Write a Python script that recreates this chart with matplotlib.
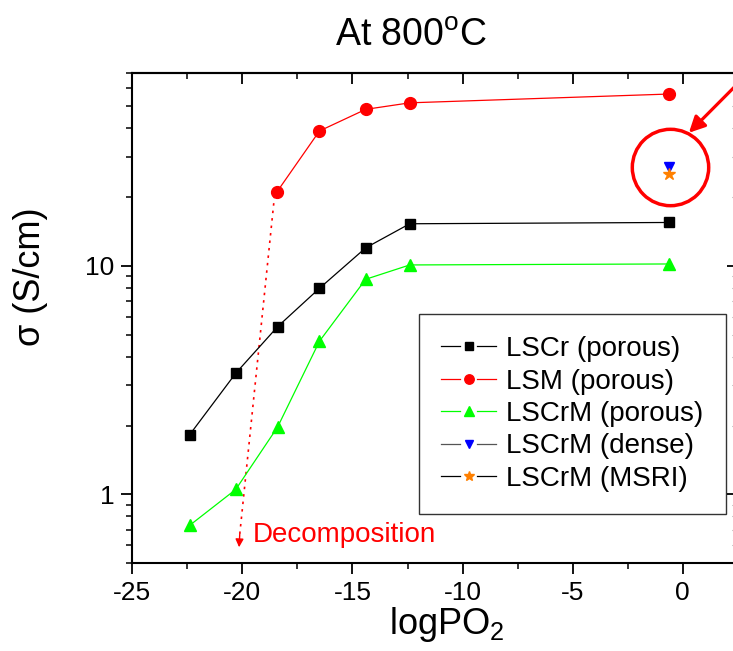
import matplotlib
matplotlib.use("Agg")
import matplotlib.pyplot as plt
from matplotlib.lines import Line2D
from matplotlib.legend_handler import HandlerLine2D

plt.rcParams['font.family'] = ['Liberation Sans', 'DejaVu Sans']
plt.rcParams['mathtext.fontset'] = 'custom'
plt.rcParams['mathtext.rm'] = 'Liberation Sans'
plt.rcParams['mathtext.it'] = 'Liberation Sans:italic'

# Data
x_lscr = [-22.4, -20.3, -18.4, -16.5, -14.4, -12.4, -0.64]
y_lscr = [1.82, 3.39, 5.42, 7.98, 12.0, 15.3, 15.5]
x_lsm = [-18.43, -16.5, -14.4, -12.4, -0.64]
y_lsm = [21.1, 39.0, 48.5, 51.8, 56.6]
x_lscrm = [-22.4, -20.3, -18.4, -16.5, -14.4, -12.4, -0.64]
y_lscrm = [0.73, 1.05, 1.97, 4.68, 8.74, 10.1, 10.2]
x_dense = [-0.64]
y_dense = [27.2]
x_msri = [-0.64]
y_msri = [25.2]

labels = ['LSCr (porous)', 'LSM (porous)', 'LSCrM (porous)', 'LSCrM (dense)', 'LSCrM (MSRI)']
xticks = [-25, -20, -15, -10, -5, 0]
xminor = [-22.5, -17.5, -12.5, -7.5, -2.5]

# annotation anchors (data coords)
decomp_start = (-18.54, 20.3)
decomp_base = (-20.12, 0.668)
decomp_tip = (-20.15, 0.586)
decomp_text_pos = (-19.52, 0.66)
circle_center = (-0.58, 27.2)
arrow_tail = (2.85, 68.0)
arrow_head = (0.28, 38.3)


class GapHandler(HandlerLine2D):
    """Origin-style legend handle: line - marker - line with small gaps."""
    def create_artists(self, legend, orig_handle, xdescent, ydescent, width, height, fontsize, trans):
        x0 = -xdescent
        x1 = -xdescent + width
        xm = (x0 + x1) / 2
        g = 0.15 * width
        y = (height - ydescent) / 2.0
        l1 = Line2D([x0, xm - g], [y, y])
        l2 = Line2D([xm + g, x1], [y, y])
        m = Line2D([xm], [y])
        for a in (l1, l2, m):
            self.update_prop(a, orig_handle, legend)
            a.set_transform(trans)
        l1.set_marker('None')
        l2.set_marker('None')
        m.set_linestyle('None')
        m.set_markersize(orig_handle.get_markersize() * 0.8)
        return [l1, l2, m]


fig = plt.figure(figsize=(7.33, 6.51), dpi=100)
ax = fig.add_axes([0.1805, 0.1352, 0.826, 0.7527])
ax.set_yscale('log')
ax.set_xlim(-25, 2.5)
ax.set_ylim(0.5, 70)

ms = 7.8
h1, = ax.plot(x_lscr, y_lscr, color='black', lw=0.9, marker='s', ms=ms, mfc='black', mec='black', label=labels[0], zorder=3)
h2, = ax.plot(x_lsm, y_lsm, color='red', lw=0.9, marker='o', ms=ms + 0.7, mfc='red', mec='red', label=labels[1], zorder=3)
h3, = ax.plot(x_lscrm, y_lscrm, color='#00ff00', lw=0.9, marker='^', ms=ms + 1.2, mfc='#00ff00', mec='#00ff00', label=labels[2], zorder=3)
h4, = ax.plot(x_dense, y_dense, color='#555555', lw=0.9, marker='v', ms=ms, mfc='blue', mec='blue', label=labels[3], zorder=4)
h5, = ax.plot(x_msri, y_msri, color='black', lw=0.9, marker='*', ms=ms + 1.5, mfc='#ff8000', mec='#ff8000', label=labels[4], zorder=5)

# big red circle around dense / MSRI
ax.plot([circle_center[0]], [circle_center[1]], marker='o', ms=55, mfc='none', mec='red', mew=2.5, ls='none', zorder=2)
# red arrow pointing to circle
ax.annotate('', xy=arrow_head, xytext=arrow_tail,
            arrowprops=dict(arrowstyle='-|>', color='red', lw=2.3, mutation_scale=24, shrinkA=0, shrinkB=0),
            annotation_clip=False)

# decomposition dotted arrow
ax.plot([decomp_start[0], decomp_base[0]], [decomp_start[1], decomp_base[1]], color='red', ls=(0, (1.5, 3)), lw=1.2, zorder=2)
ax.annotate('', xy=decomp_tip, xytext=decomp_base,
            arrowprops=dict(arrowstyle='-|>', color='red', lw=1.0, mutation_scale=12, shrinkA=0, shrinkB=0))
ax.text(decomp_text_pos[0], decomp_text_pos[1], 'Decomposition', color='red', fontsize=20,
        ha='left', va='center')

ax.set_xticks(xticks)
ax.set_xticklabels([str(t) for t in xticks])
ax.set_xticks(xminor, minor=True)
ax.set_yticks([1, 10])
ax.set_yticklabels(['1', '10'])
ax.tick_params(axis='both', which='major', direction='out', length=8, width=1.3, labelsize=19, pad=5)
ax.tick_params(axis='both', which='minor', direction='out', length=4.5, width=1.1, labelleft=False)

# top / right inward ticks
secx = ax.secondary_xaxis('top')
secx.set_xticks(xticks)
secx.set_xticks(xminor, minor=True)
secx.tick_params(axis='x', which='major', direction='in', length=8, width=1.3, labeltop=False)
secx.tick_params(axis='x', which='minor', direction='in', length=4.5, width=1.1, labeltop=False)
secx.spines['top'].set_linewidth(1.5)

secy = ax.secondary_yaxis('right')
secy.set_yticks([1, 10])
secy.tick_params(axis='y', which='major', direction='in', length=8, width=1.3, labelright=False)
secy.tick_params(axis='y', which='minor', direction='in', length=4.5, width=0.8, labelright=False, colors='#999999')

for s in ['left', 'bottom', 'top']:
    ax.spines[s].set_linewidth(1.5)
ax.spines['right'].set_visible(False)
secy.spines['right'].set_visible(False)

fig.text(447 / 733, 1 - 634 / 651, 'logPO$_\\mathregular{2}$', fontsize=26, ha='center', va='baseline')
fig.text(30 / 733, 1 - 277 / 651, 'σ (S/cm)', fontsize=26, rotation=90, ha='center', va='center')
fig.text(411 / 733, 1 - 46 / 651, 'At 800$^\\mathregular{o}$C', fontsize=27, ha='center', va='baseline')

handles = [h1, h2, h3, h4, h5]
leg = ax.legend(handles, labels, loc='lower right', bbox_to_anchor=(0.980, 0.1), fontsize=20, frameon=True,
                fancybox=False, edgecolor='black', handlelength=2.0, handletextpad=0.35, borderpad=0.8,
                labelspacing=0.23, borderaxespad=0,
                handler_map={Line2D: GapHandler()})
leg.get_frame().set_linewidth(1.0)

fig.savefig('out.png', dpi=100)
